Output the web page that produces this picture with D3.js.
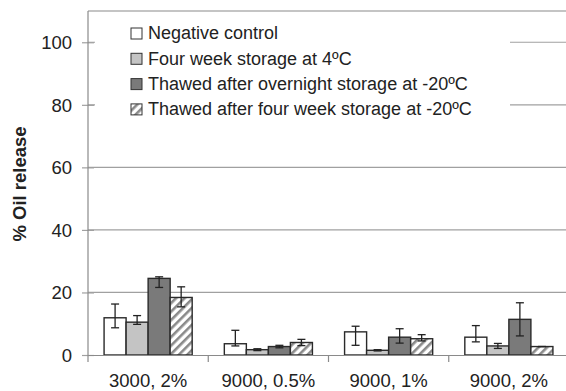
<!DOCTYPE html>
<html>
<head>
<meta charset="utf-8">
<script src="https://cdn.jsdelivr.net/npm/d3@7"></script>
<style>
  body { margin: 0; background: #fff; }
  svg { display: block; font-family: "Liberation Sans", Arial, sans-serif; }
</style>
</head>
<body>
<div id="grafico"></div>
<script>
// datos
const categorias = ["3000, 2%", "9000, 0.5%", "9000, 1%", "9000, 2%"];
const series = [
  "Negative control",
  "Four week storage at 4ºC",
  "Thawed after overnight storage at -20ºC",
  "Thawed after four week storage at -20ºC"
];
// valores por serie (una fila por serie, una columna por categoría)
const valores = [
  [11.9, 3.6, 7.4, 5.7],
  [10.5, 1.7, 1.5, 2.9],
  [24.5, 2.7, 5.7, 11.4],
  [18.4, 4.0, 5.2, 2.7]
];
// extremos de las barras de error (inferior / superior)
const errorBajo = [
  [8.7, 2.9, 3.1, 4.2],
  [9.8, 1.4, 1.3, 2.1],
  [21.6, 2.3, 3.8, 6.1],
  [15.4, 3.0, 4.5, 2.7]
];
const errorAlto = [
  [16.3, 7.9, 9.2, 9.4],
  [12.6, 2.0, 1.7, 3.7],
  [25.0, 3.1, 8.4, 16.7],
  [21.8, 5.0, 6.5, 2.7]
];
const ticksY = [0, 20, 40, 60, 80, 100];
const colores = ["#ffffff", "#c4c4c4", "#7a7a7a", "url(#rayado)"];

const W = 566, H = 391;
const margin = { top: 11, right: -3, bottom: 36, left: 88 };
const width = W - margin.left - margin.right;
const height = H - margin.top - margin.bottom;

const svgBase = d3.select("#grafico").append("svg")
  .attr("width", W).attr("height", H);

const defs = svgBase.append("defs");
const pat = defs.append("pattern")
  .attr("id", "rayado")
  .attr("patternUnits", "userSpaceOnUse")
  .attr("width", 6).attr("height", 6)
  .attr("patternTransform", "rotate(45)");
pat.append("rect").attr("width", 6).attr("height", 6).attr("fill", "#fff");
pat.append("rect").attr("width", 2.6).attr("height", 6).attr("fill", "#8a8a8a");

const svg = svgBase.append("g")
  .attr("transform", `translate(${margin.left},${margin.top})`);

const y = d3.scaleLinear().domain([0, 110]).range([height, 0]);
const x0 = d3.scaleBand().domain(categorias).range([0, width]).padding(0);
const x1 = d3.scaleBand().domain(d3.range(series.length))
  .range([0, x0.bandwidth()]).paddingInner(0).paddingOuter(0.73);

// líneas de cuadrícula
svg.append("g")
  .selectAll("line")
  .data(ticksY.filter(d => d > 0))
  .enter().append("line")
  .attr("x1", 0).attr("x2", width)
  .attr("y1", d => y(d)).attr("y2", d => y(d))
  .attr("stroke", "#a0a0a0").attr("stroke-width", 1.2);

// eje Y
const ejeY = svg.append("g")
  .call(d3.axisLeft(y).tickValues(ticksY).tickSize(6).tickPadding(10));
ejeY.select(".domain").remove();
ejeY.selectAll(".tick line").attr("x2", 6).attr("x1", -6)
  .attr("stroke", "#a0a0a0").attr("stroke-width", 1.2);
ejeY.selectAll("text").style("font-size", "18.5px").attr("fill", "#222").attr("dy", "0.35em");

// marco superior y ejes
svg.append("line").attr("x1", 0).attr("x2", width).attr("y1", 0).attr("y2", 0)
  .attr("stroke", "#8a8a8a").attr("stroke-width", 1.2);
svg.append("line").attr("x1", 0).attr("x2", 0).attr("y1", 0).attr("y2", height)
  .attr("stroke", "#8a8a8a").attr("stroke-width", 1.2);

// recuadro de la leyenda (tapa las líneas de 80 y 100)
svg.append("rect")
  .attr("x", 7).attr("y", 1).attr("width", 415).attr("height", 110)
  .attr("fill", "#fff");

// barras
const grupos = svg.selectAll(".grupo")
  .data(categorias)
  .enter().append("g")
  .attr("class", "grupo")
  .attr("transform", d => `translate(${x0(d)},0)`);

grupos.selectAll("rect")
  .data((d, j) => series.map((s, i) => ({ i, j, v: valores[i][j] })))
  .enter().append("rect")
  .attr("x", d => x1(d.i))
  .attr("y", d => y(d.v))
  .attr("width", x1.bandwidth())
  .attr("height", d => y(0) - y(d.v))
  .attr("fill", d => colores[d.i])
  .attr("stroke", "#2a2a2a")
  .attr("stroke-width", 1.4);

// barras de error
const errores = grupos.selectAll(".err")
  .data((d, j) => series.map((s, i) => ({ i, lo: errorBajo[i][j], hi: errorAlto[i][j] })))
  .enter().append("g")
  .attr("class", "err")
  .attr("transform", d => `translate(${x1(d.i) + x1.bandwidth() / 2},0)`)
  .attr("stroke", "#222").attr("stroke-width", 1.3);
errores.append("line").attr("y1", d => y(d.lo)).attr("y2", d => y(d.hi));
errores.append("line").attr("x1", -4).attr("x2", 4).attr("y1", d => y(d.lo)).attr("y2", d => y(d.lo));
errores.append("line").attr("x1", -4).attr("x2", 4).attr("y1", d => y(d.hi)).attr("y2", d => y(d.hi));

// eje X
const ejeX = svg.append("g")
  .attr("transform", `translate(0,${height})`)
  .call(d3.axisBottom(x0).tickSize(0).tickPadding(19));
ejeX.select(".domain").attr("stroke", "#8a8a8a").attr("stroke-width", 1.2);
ejeX.selectAll("text").style("font-size", "18.5px").attr("fill", "#222");
ejeX.selectAll(".sep")
  .data(categorias)
  .enter().append("line")
  .attr("x1", d => x0(d)).attr("x2", d => x0(d))
  .attr("y1", 0).attr("y2", 7)
  .attr("stroke", "#8a8a8a").attr("stroke-width", 1.2);

// título del eje Y
svgBase.append("text")
  .attr("transform", `translate(25.5,184) rotate(-90)`)
  .attr("text-anchor", "middle")
  .style("font-size", "18.5px").style("font-weight", "bold")
  .attr("fill", "#222")
  .text("% Oil release");

// leyenda
const leyenda = svg.append("g").attr("transform", "translate(43,22)");
const filas = leyenda.selectAll("g")
  .data(series)
  .enter().append("g")
  .attr("transform", (d, i) => `translate(0,${i * 25.3})`);
filas.append("rect")
  .attr("x", 0).attr("y", -5).attr("width", 11).attr("height", 11)
  .attr("fill", (d, i) => colores[i])
  .attr("stroke", "#333").attr("stroke-width", 1);
filas.append("text")
  .attr("x", 17).attr("y", 0).attr("dy", "0.36em")
  .style("font-size", "18px").attr("fill", "#222")
  .text(d => d);
</script>
</body>
</html>
